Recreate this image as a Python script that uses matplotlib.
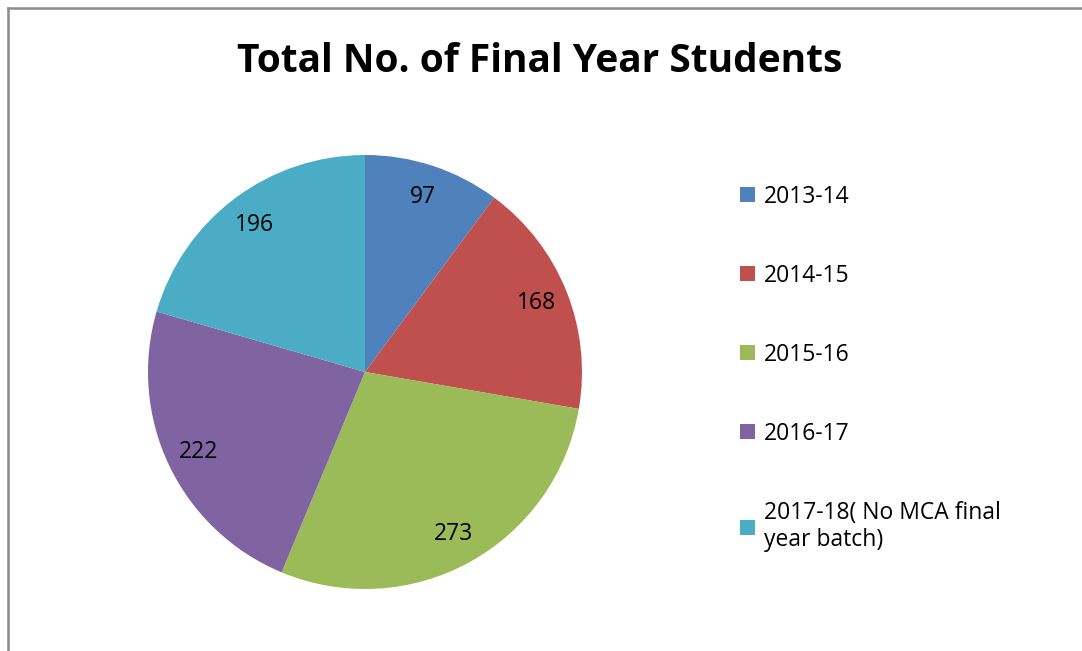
import matplotlib.pyplot as plt
from matplotlib.lines import Line2D

# data
years = ['2013-14', '2014-15', '2015-16', '2016-17', '2017-18( No MCA final\nyear batch)']
students = [97, 168, 273, 222, 196]
colors = ['#4F81BD', '#C0504D', '#9BBB59', '#8064A2', '#4BACC6']

plt.rcParams['font.family'] = ['Open Sans', 'DejaVu Sans']

W, H = 1082, 651
fig = plt.figure(figsize=(W / 100, H / 100), dpi=100)

# pie axes: center (365,372), radius 217 px
cx, cy, r = 365, 372, 217
ax = fig.add_axes([(cx - r) / W, (H - cy - r) / H, 2 * r / W, 2 * r / H])
total = sum(students)
wedges, texts, autotexts = ax.pie(students, colors=colors, startangle=90, counterclock=False,
                                  autopct=lambda p: '%d' % round(p * total / 100),
                                  pctdistance=0.85, textprops={'fontsize': 16.5})
ax.set_xlim(-1, 1)
ax.set_ylim(-1, 1)
ax.set_aspect('equal')

fig.text(540 / W, 1 - 61 / H, 'Total No. of Final Year Students', ha='center', va='center',
         fontsize=28, fontweight='bold')

fig.legend(wedges, years, loc='upper left', bbox_to_anchor=(719 / W, 1 - 164 / H),
           frameon=False, fontsize=16.5, handlelength=0.65, handleheight=0.65,
           handletextpad=0.4, labelspacing=2.4)

# partial border of the chart area
gray = '#8c8c8c'
fig.add_artist(Line2D([8 / W, 1], [1 - 7.5 / H, 1 - 7.5 / H], color=gray, lw=1.8))
fig.add_artist(Line2D([8 / W, 8 / W], [0, 1 - 7.5 / H], color=gray, lw=1.8))

fig.savefig('out.png', dpi=100)
